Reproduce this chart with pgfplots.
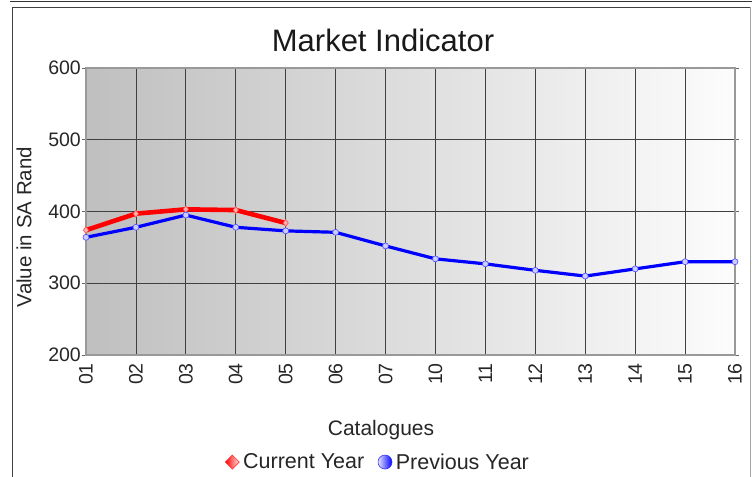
\documentclass[border=0pt]{standalone}
\usepackage{pgfplots}
\pgfplotsset{compat=1.18}
\usepackage{fontspec}
\setmainfont{Liberation Sans}
\begin{document}
\begin{tikzpicture}
\useasboundingbox (0bp,0bp) rectangle (752bp,477bp);
\draw[black!80, line width=1bp] (10bp,475.6bp) -- (752bp,475.6bp);
\draw[black!75, line width=1bp] (750bp,469.7bp) -- (12.3bp,469.7bp) -- (12.3bp,0bp);
\draw[black!35, line width=1bp] (750.7bp,469.7bp) -- (750.7bp,0bp);
\begin{axis}[
  at={(86bp,122bp)}, anchor=south west,
  scale only axis, width=649bp, height=287bp,
  xmin=0, xmax=13, ymin=200, ymax=600,
  xtick={0,...,13},
  xticklabels={01,02,03,04,05,06,07,10,11,12,13,14,15,16},
  ytick={200,300,400,500,600},
  grid=major,
  major grid style={black!75, line width=0.8bp},
  axis line style={draw=black!40, line width=1.6bp},
  axis background/.style={shade, left color=black!25, right color=black!1},
  tick align=outside,
  xtick style={draw=none},
  ytick style={draw=black!60, line width=0.8bp},
  major tick length=4bp,
  ticklabel style={font=\fontsize{19.5bp}{22bp}\selectfont, text=black!85},
  /pgf/number format/assume math mode=true,
  xticklabel style={rotate=90, anchor=east, inner sep=1bp, yshift=0bp},
  xticklabel shift=3bp,
  yticklabel style={inner sep=1bp},
  legend columns=2,
  legend style={at={(0.451,-0.373)}, anchor=center, draw=none, fill=none,
    font=\fontsize{21.5bp}{24bp}\selectfont, text=black!85,
    nodes={inner xsep=3.5bp},
    /tikz/every even column/.append style={column sep=10bp}},
  clip=false,
]
\addplot[red, line width=4.6bp, mark=diamond*, mark size=3.5bp,
  mark options={fill=red!30, draw=red!70, line width=0.6bp},
  legend image code/.code={\shade[left color=red, right color=red!10, draw=red!80, line width=0.6bp]
    (0bp,0bp) -- (7bp,7bp) -- (14bp,0bp) -- (7bp,-7bp) -- cycle;}]
  coordinates {(0,374) (1,397) (2,403) (3,402) (4,384)};
\addlegendentry{Current Year}
\addplot[blue, line width=3.2bp, mark=*, mark size=3bp,
  mark options={fill=blue!20, draw=blue!70, line width=0.6bp},
  legend image code/.code={\shade[left color=blue!10, right color=blue, draw=blue!80, line width=0.6bp]
    (7bp,0bp) circle (7bp);}]
  coordinates {(0,364) (1,378) (2,395) (3,378) (4,373) (5,371) (6,352) (7,334) (8,327) (9,318) (10,310) (11,320) (12,330) (13,330)};
\addlegendentry{Previous Year}
\end{axis}
\node[font=\fontsize{31bp}{36bp}\selectfont, text=black!90] at (383bp,437bp) {Market Indicator};
\node[font=\fontsize{21bp}{24bp}\selectfont, text=black!85] at (381bp,47bp) {Catalogues};
\node[font=\fontsize{20.5bp}{24bp}\selectfont, text=black!85, rotate=90] at (24bp,250bp) {Value in SA Rand};
\end{tikzpicture}
\end{document}
